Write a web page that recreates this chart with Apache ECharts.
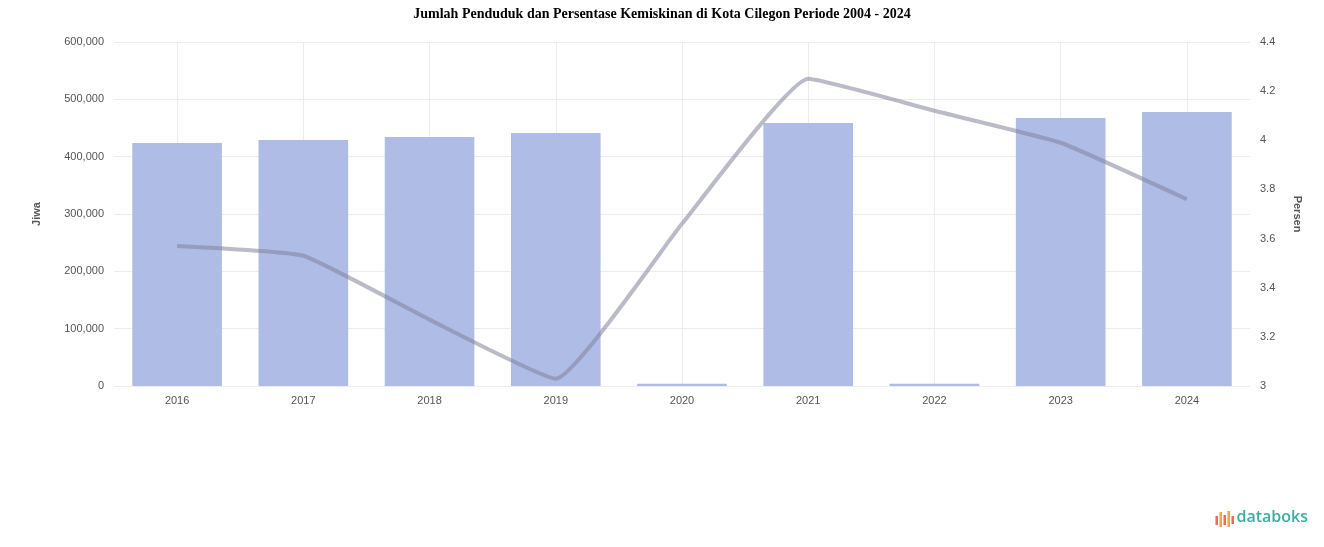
<!DOCTYPE html>
<html><head><meta charset="utf-8">
<script src="https://cdn.jsdelivr.net/npm/echarts@6/dist/echarts.min.js"></script>
<style>html,body{margin:0;padding:0;background:#fff}#c{width:1324px;height:547px}</style>
</head><body><div id="c"></div>
<script>
const categories = ['2016','2017','2018','2019','2020','2021','2022','2023','2024'];
const penduduk = [423800, 429100, 434300, 441300, 4000, 458700, 4000, 467400, 477900];
const kemiskinan = [3.57, 3.53, 3.27, 3.03, 3.66, 4.25, 4.12, 3.99, 3.76];
const titleText = 'Jumlah Penduduk dan Persentase Kemiskinan di Kota Cilegon Periode 2004 - 2024';

const chart = echarts.init(document.getElementById('c'), null, {renderer:'canvas'});
const labelStyle = {color:'#555', fontSize:11, fontFamily:'Liberation Sans, Arial'};
chart.setOption({
  animation:false,
  title:{text:titleText, left:'center', top:2, textStyle:{fontFamily:'Liberation Serif', fontWeight:'bold', fontSize:14, color:'#000'}},
  grid:{left:114, right:74, top:42, bottom:161},
  xAxis:{type:'category', data:categories, axisLine:{show:false}, axisTick:{show:false},
    axisLabel:Object.assign({margin:9}, labelStyle),
    splitLine:{show:true, alignWithLabel:true, lineStyle:{color:'#ececec', width:1}}},
  yAxis:[
    {type:'value', min:0, max:600000, interval:100000, name:'Jiwa', nameLocation:'middle', nameGap:72,
     nameTextStyle:Object.assign({fontWeight:'bold'}, labelStyle),
     axisLabel:Object.assign({formatter:v=>v.toLocaleString('en-US'), margin:10}, labelStyle),
     axisLine:{show:false}, axisTick:{show:false}, splitLine:{lineStyle:{color:'#ececec'}}},
    {type:'value', min:3, max:4.4, interval:0.2, name:'Persen', nameLocation:'middle', nameGap:42, nameRotate:-90,
     nameTextStyle:Object.assign({fontWeight:'bold'}, labelStyle),
     axisLabel:Object.assign({formatter:v=>String(Math.round(v*10)/10), margin:10}, labelStyle),
     axisLine:{show:false}, axisTick:{show:false}, splitLine:{show:false}}
  ],
  series:[
    {type:'bar', name:'Jumlah Penduduk', data:penduduk, yAxisIndex:0, barWidth:'71%', itemStyle:{color:'#aebce6'}},
    {type:'line', name:'Persentase Kemiskinan', data:kemiskinan, yAxisIndex:1, smooth:0.12, showSymbol:false,
     lineStyle:{color:'rgba(130,130,155,0.55)', width:4}}
  ],
  graphic:[
    {type:'group', right:16, bottom:20, children:[
      {type:'rect', shape:{x:0,y:5,width:2.5,height:9}, style:{fill:'#f26b4f'}},
      {type:'rect', shape:{x:4,y:1,width:2.5,height:15}, style:{fill:'#f4a14a'}},
      {type:'rect', shape:{x:8,y:4,width:2.5,height:10}, style:{fill:'#f26b4f'}},
      {type:'rect', shape:{x:12,y:0,width:2.5,height:16}, style:{fill:'#f4a14a'}},
      {type:'rect', shape:{x:16,y:5,width:2.5,height:8}, style:{fill:'#f26b4f'}},
      {type:'text', x:21, y:-2, style:{text:'databoks', fill:'#3aaea6', font:'600 16px "Open Sans", Arial'}}
    ]}
  ]
});
</script></body></html>
